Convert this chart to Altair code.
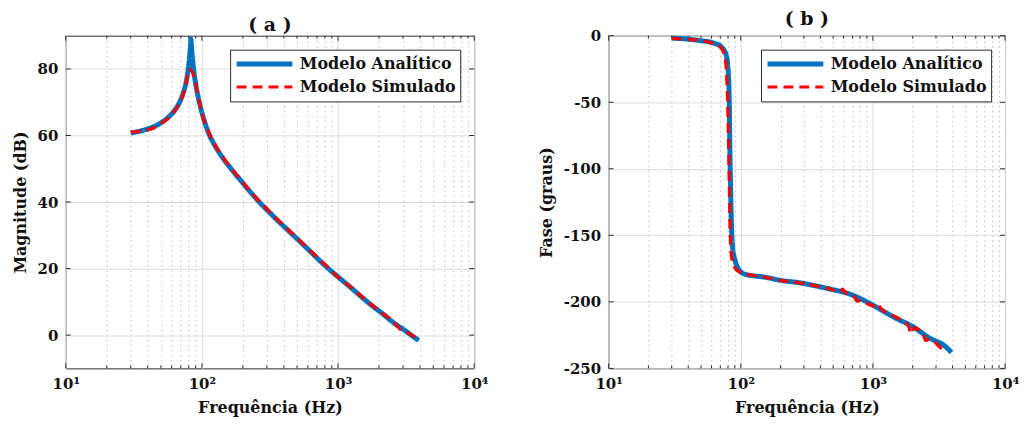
import altair as alt
import pandas as pd

FONT = "DejaVu Serif"
TXT = "#111111"
FRAME = "#2b2b2b"
SERIES = ["Modelo Analítico", "Modelo Simulado"]
COLORS = ["#0072BD", "#FF0000"]

# ---- panel (a): magnitude ----
mag_an_f = [30, 35, 40, 45, 50, 55, 60, 65, 70, 74, 77, 79, 80.5, 81.8, 82.6, 83.1, 83.6, 84.4,
            85.8, 87.5, 90, 94, 99, 105, 114, 125, 140, 161, 190, 225, 264, 310, 370, 440, 520,
            620, 730, 850, 1000, 1200, 1450, 1750, 2100, 2600, 3100, 3450, 3910]
mag_an_db = [60.8, 61.3, 62.0, 62.8, 63.8, 65.0, 66.5, 68.3, 70.8, 73.6, 76.6, 79.4, 82.0, 85.0,
             87.5, 89.0, 87.5, 85.0, 82.0, 79.0, 75.5, 71.5, 67.6, 64.0, 60.0, 56.9, 53.7, 50.4,
             46.8, 43.2, 40.0, 37.1, 34.0, 31.1, 28.3, 25.3, 22.5, 20.0, 17.5, 14.8, 11.9, 9.1,
             6.6, 3.5, 1.4, 0.0, -1.6]
mag_sim_f = [30, 35, 40, 45, 50, 55, 60, 65, 70, 75, 78, 80, 89, 92, 96, 100, 114, 125, 140, 161,
             190, 225, 264, 310, 370, 440, 520, 620, 730, 850, 1000, 1200, 1450, 1750, 2100,
             2600, 2900, 3100, 3450, 3900]
mag_sim_db = [61.0, 61.3, 61.7, 62.4, 63.6, 64.8, 66.3, 68.2, 70.6, 74.3, 77.6, 80.0, 76.8, 73.5,
              69.9, 66.8, 60.2, 57.1, 53.9, 50.6, 47.0, 43.4, 40.2, 37.3, 34.2, 31.3, 28.5,
              25.5, 22.7, 20.2, 17.4, 14.9, 12.0, 9.2, 6.7, 3.7, 1.6, 1.2, 0.1, -1.3]

# ---- panel (b): phase ----
ph_an_f = [30, 40, 50, 60, 65, 68.6, 72, 75, 77.5, 79.5, 80.5, 81.4, 82.1, 82.8, 83.8, 84.8, 85.8,
           87, 88.5, 90.2, 93, 96, 100, 110, 153, 204, 271, 361, 480, 640, 800, 1000, 1250, 1506,
           2000, 2660, 3540, 3930]
ph_an_deg = [-1.8, -2.6, -3.8, -5.0, -6.2, -7.0, -8.8, -11, -14.5, -21, -28, -39, -60, -88.5, -115,
             -138, -152, -160, -165, -168.5, -172.5, -175.3, -177.5, -179.5, -181.5, -184, -185.5,
             -187.8, -190.5, -193.5, -197.5, -202.5, -208, -212.5, -218.5, -227, -233.6, -238]
ph_sim_f = [30, 40, 50, 60, 70, 75, 78, 80, 81.5, 82.8, 84, 86.5, 92, 100, 153, 204, 271, 361, 480,
            560, 590, 620, 720, 760, 800, 1000, 1080, 1150, 1500, 1850, 1950, 2050, 2400, 2500,
            2700, 3300, 3600]
ph_sim_deg = [-2.0, -2.8, -3.5, -5.5, -8.5, -14, -28, -60, -100, -140, -160, -170, -175.5, -178,
              -181.5, -184, -185.5, -187.8, -190.5, -192.5, -190.5, -193, -196, -199.5, -199,
              -203, -201, -205, -211.5, -218, -224, -219.5, -224, -229, -228, -235, -237]

x_decades = [10, 100, 1000, 10000]
x_decade_labels = ["10¹", "10²", "10³", "10⁴"]
x_minor = [20, 30, 40, 50, 60, 70, 80, 90, 200, 300, 400, 500, 600, 700, 800, 900,
           2000, 3000, 4000, 5000, 6000, 7000, 8000, 9000]
mag_ticks = [0, 20, 40, 60, 80]
ph_ticks = [-250, -200, -150, -100, -50, 0]


def make_df(f1, v1, f2, v2):
    return pd.concat([
        pd.DataFrame({"f": f1, "v": v1, "serie": SERIES[0]}),
        pd.DataFrame({"f": f2, "v": v2, "serie": SERIES[1]}),
    ], ignore_index=True)


label_expr = " : ".join(
    f"datum.value == {v} ? '{l}'" for v, l in zip(x_decades, x_decade_labels)) + " : ''"
minor_test = "indexof([" + ",".join(str(v) for v in x_decades) + "], datum.value) < 0"


def panel(df, ytitle, ydomain, yvalues, width, height, title):
    xs = alt.Scale(type="log", domain=[10, 10000], nice=False)
    ys = alt.Scale(domain=ydomain, nice=False, zero=False)
    x_axis = alt.Axis(
        values=x_decades + x_minor, labelExpr=label_expr, title="Frequência (Hz)",
        grid=True,
        gridColor={"condition": {"test": minor_test, "value": "#bdbdbd"}, "value": "#dcdcdc"},
        gridDash={"condition": {"test": minor_test, "value": [1.5, 3.5]}, "value": []},
        gridWidth=1, ticks=False, domain=False, labelPadding=8, titlePadding=8,
        labelFont=FONT, labelFontSize=15, labelFontWeight="bold", labelColor=TXT,
        titleFont=FONT, titleFontSize=16, titleFontWeight="bold", titleColor=TXT,
        labelOverlap=False, labelFlush=False)
    y_axis = alt.Axis(
        values=yvalues, labelExpr="datum.value + ''", title=ytitle, grid=True,
        gridColor="#dcdcdc", gridWidth=1, ticks=False, domain=False, labelPadding=8,
        titlePadding=9, labelFont=FONT, labelFontSize=15, labelFontWeight="bold",
        labelColor=TXT, titleFont=FONT, titleFontSize=16, titleFontWeight="bold",
        titleColor=TXT, labelOverlap=False)
    leg = alt.Legend(
        title=None, orient="top-right", offset=14, fillColor="white", strokeColor=FRAME,
        padding=4, symbolType="stroke", symbolSize=3136, clipHeight=21, rowPadding=2,
        labelFont=FONT, labelFontSize=16, labelFontWeight="bold", labelColor=TXT,
        labelOffset=5, labelLimit=0)

    xt = pd.DataFrame({"f": x_decades})
    xm = pd.DataFrame({"f": x_minor})
    yt = pd.DataFrame({"v": yvalues})
    layers = []
    for data, ln in ((xt, 5), (xm, 3)):
        for top in (True, False):
            layers.append(alt.Chart(data).mark_rule(color=FRAME, strokeWidth=1).encode(
                x=alt.X("f:Q", scale=xs, axis=x_axis),
                y=alt.value(0 if top else height),
                y2=alt.value(ln if top else height - ln)))
    for left in (True, False):
        layers.append(alt.Chart(yt).mark_rule(color=FRAME, strokeWidth=1).encode(
            y=alt.Y("v:Q", scale=ys, axis=y_axis),
            x=alt.value(0 if left else width),
            x2=alt.value(5 if left else width - 5)))
    lines = alt.Chart(df).mark_line(strokeCap="butt", strokeJoin="round",
                                    interpolate="monotone").encode(
        x=alt.X("f:Q", scale=xs, axis=x_axis),
        y=alt.Y("v:Q", scale=ys, axis=y_axis),
        color=alt.Color("serie:N", scale=alt.Scale(domain=SERIES, range=COLORS), legend=leg),
        strokeDash=alt.StrokeDash("serie:N", scale=alt.Scale(domain=SERIES, range=[[1, 0], [10, 6]]), legend=leg),
        strokeWidth=alt.StrokeWidth("serie:N", scale=alt.Scale(type="ordinal", domain=SERIES, range=[5, 3.2]), legend=leg),
    )
    layers.append(lines)
    return alt.layer(*layers).properties(
        width=width, height=height,
        title=alt.TitleParams(title, font=FONT, fontSize=19, fontWeight="bold", color=TXT,
                              offset=0, frame="group", anchor="middle"))


pa = panel(make_df(mag_an_f, mag_an_db, mag_sim_f, mag_sim_db), "Magnitude (dB)",
           [-10, 90], mag_ticks, 410, 334, "( a )")
pb = panel(make_df(ph_an_f, ph_an_deg, ph_sim_f, ph_sim_deg), "Fase (graus)",
           [-250, 0], ph_ticks, 398, 334, "( b )")

chart = alt.hconcat(pa, pb, spacing=48).resolve_scale(
    color="independent", strokeDash="independent", strokeWidth="independent"
).configure_view(stroke=FRAME, strokeWidth=1).properties(
    padding={"left": 3, "top": 0, "right": 0, "bottom": 0}, background="white")

chart.save("out.html", embed_options={"renderer": "svg", "actions": False})
